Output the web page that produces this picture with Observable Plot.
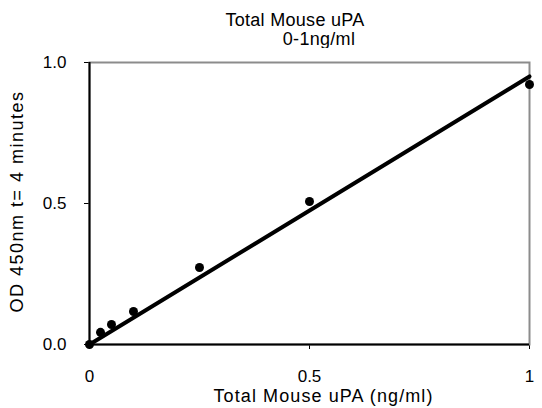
<!DOCTYPE html>
<html><head><meta charset="utf-8">
<script src="https://cdn.jsdelivr.net/npm/d3@7"></script>
<script src="https://cdn.jsdelivr.net/npm/@observablehq/plot@0.6"></script>
<style>
body{margin:0;background:#fff;font-family:"Liberation Sans",Arial,sans-serif;}
#chart{width:542px;height:408px;position:relative;overflow:hidden}
#title{display:block}
</style>
</head><body><div id="chart"></div>
<script>
const titleLines = ["Total Mouse uPA", "0-1ng/ml"];
const concentration = [0, 0.025, 0.05, 0.1, 0.25, 0.5, 1];
const od = [0, 0.043, 0.071, 0.117, 0.273, 0.507, 0.922];
const xTicks = [0, 0.5, 1];
const xTickLabels = ["0", "0.5", "1"];
const yTicks = [0, 0.5, 1];
const yTickLabels = ["0.0", "0.5", "1.0"];
const xLabel = "Total Mouse uPA (ng/ml)";
const yLabel = "OD 450nm t= 4 minutes";

const points = concentration.map((c, i) => ({x: c, y: od[i]}));
// least-squares fit through the origin
const slope = d3.sum(points, p => p.x * p.y) / d3.sum(points, p => p.x * p.x);
const fit = [{x: 0, y: 0}, {x: 1, y: slope}];

const chart = document.getElementById("chart");

// Title (above the plot SVG)
const ns = "http://www.w3.org/2000/svg";
const tsvg = document.createElementNS(ns, "svg");
tsvg.setAttribute("id", "title");
tsvg.setAttribute("width", 542);
tsvg.setAttribute("height", 48);
const tpos = [[295, 26], [319, 45]];
titleLines.forEach((t, i) => {
  const el = document.createElementNS(ns, "text");
  el.setAttribute("x", tpos[i][0]);
  el.setAttribute("y", tpos[i][1]);
  el.setAttribute("text-anchor", "middle");
  el.setAttribute("font-size", "18");
  el.setAttribute("letter-spacing", "0.3");
  el.setAttribute("font-family", "Liberation Sans, Arial, sans-serif");
  el.setAttribute("fill", "#000");
  el.textContent = t;
  tsvg.appendChild(el);
});
chart.appendChild(tsvg);

const plot = Plot.plot({
  width: 542,
  height: 360,
  marginLeft: 89,
  marginRight: 13,
  marginTop: 14,
  marginBottom: 64,
  style: {fontFamily: "Liberation Sans, Arial, sans-serif", fontSize: "17px", color: "#000", background: "#fff", overflow: "visible"},
  x: {domain: [0, 1], ticks: xTicks, tickFormat: (d) => xTickLabels[xTicks.indexOf(d)], tickSize: 5, tickPadding: 20, label: null},
  y: {domain: [0, 1], ticks: yTicks, tickFormat: (d) => yTickLabels[yTicks.indexOf(d)], tickSize: 5, tickPadding: 18, label: null},
  marks: [
    Plot.frame({stroke: "#8c8c8c", strokeWidth: 2}),
    Plot.ruleX([0], {stroke: "#000", strokeWidth: 2}),
    Plot.ruleY([0], {stroke: "#000", strokeWidth: 2}),
    Plot.line(fit, {x: "x", y: "y", stroke: "#000", strokeWidth: 4}),
    Plot.dot(points, {x: "x", y: "y", r: 4.5, fill: "#000", stroke: null}),
    Plot.text([xLabel], {frameAnchor: "bottom", dx: 14, dy: 57, textAnchor: "middle", lineAnchor: "bottom", fontSize: 18, text: d => d, fill: "#000"}),
    Plot.text([yLabel], {frameAnchor: "left", dx: -72, dy: -2, rotate: -90, textAnchor: "middle", lineAnchor: "middle", fontSize: 18, text: d => d, fill: "#000"})
  ]
});
chart.appendChild(plot);
plot.querySelectorAll("text").forEach(t => {
  if (t.textContent === yLabel) t.setAttribute("letter-spacing", "1.5");
  if (t.textContent === xLabel) t.setAttribute("letter-spacing", "1.1");
});
</script>
</body></html>
